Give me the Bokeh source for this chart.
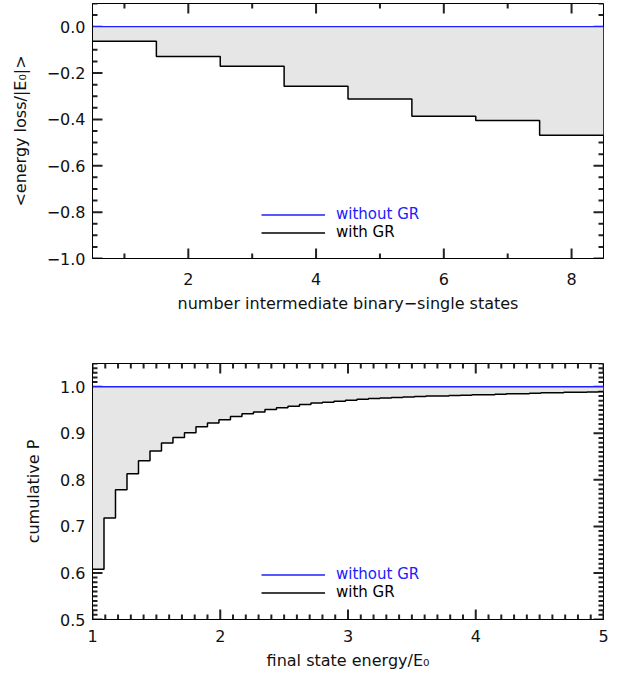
import numpy as np
from bokeh.plotting import figure
from bokeh.layouts import column
from bokeh.models import (Range1d, Legend, LegendItem, FixedTicker,
                          CustomJSTickFormatter, ColumnDataSource)
from bokeh.embed import file_html
from bokeh.resources import INLINE

# ---------------- data ----------------
# top panel: mean energy loss vs number of intermediate binary-single states
n_states = [1, 2, 3, 4, 5, 6, 7, 8]
eloss_with_gr = [-0.063, -0.129, -0.171, -0.257, -0.312, -0.386, -0.405, -0.468]
eloss_without_gr = [0.0, 0.0, 0.0, 0.0, 0.0, 0.0, 0.0, 0.0]

# bottom panel: cumulative P vs final state energy (bin left edges)
energy_edges = [1.00, 1.09, 1.18, 1.27, 1.36, 1.45, 1.54, 1.63, 1.72, 1.81,
                1.90, 1.99, 2.08, 2.17, 2.26, 2.35, 2.44, 2.53, 2.62, 2.71,
                2.80, 2.89, 2.98, 3.07, 3.16, 3.25, 3.34, 3.43, 3.52, 3.61,
                3.70, 3.79, 3.88, 3.97, 4.06, 4.15, 4.24, 4.33, 4.42, 4.51,
                4.60, 4.69, 4.78, 4.87, 4.96]
energy_max = 5.0
cumP_with_gr = [0.608, 0.718, 0.779, 0.813, 0.841, 0.862, 0.879, 0.891, 0.901, 0.914,
                0.922, 0.929, 0.936, 0.942, 0.946, 0.951, 0.955, 0.958, 0.962, 0.965,
                0.967, 0.969, 0.971, 0.973, 0.975, 0.976, 0.977, 0.978, 0.979, 0.980,
                0.980, 0.981, 0.982, 0.983, 0.983, 0.984, 0.985, 0.985, 0.986, 0.987,
                0.987, 0.988, 0.988, 0.989, 0.990]
cumP_without_gr = [1.0] * len(cumP_with_gr)

# tick labels
top_xticks = [2, 4, 6, 8]
top_yticks = [-1.0, -0.8, -0.6, -0.4, -0.2, 0.0]
bot_xticks = [1, 2, 3, 4, 5]
bot_yticks = [0.5, 0.6, 0.7, 0.8, 0.9, 1.0]

# ---------------- style ----------------
FONT = "DejaVu Sans"
FS = "16px"
LFS = "15px"
BLUE = "#2020ff"
FILL = "#e6e6e6"
TXT = "#111111"
TICK = "#222222"
MAJ_LEN = 10
MIN_LEN = 5

minus_fmt = CustomJSTickFormatter(code="""
    const d = Math.abs(tick) < 1e-9 ? 0 : tick;
    return d.toFixed(1).replace('-', '\\u2212');
""")
int_fmt = CustomJSTickFormatter(code="return Math.round(tick).toString();")


def style_axis(ax, ticks, fmt, standoff, label, label_standoff):
    ax.ticker = FixedTicker(ticks=ticks)
    ax.formatter = fmt
    ax.major_tick_in = 0
    ax.major_tick_out = 0
    ax.minor_tick_in = 0
    ax.minor_tick_out = 0
    ax.axis_line_color = "black"
    ax.major_label_text_font = FONT
    ax.major_label_text_color = TXT
    ax.major_label_text_font_size = FS
    ax.major_label_standoff = standoff
    ax.axis_label = label
    ax.axis_label_text_font = FONT
    ax.axis_label_text_font_style = "normal"
    ax.axis_label_text_color = TXT
    ax.axis_label_text_font_size = FS
    ax.axis_label_standoff = label_standoff


def tick_positions(lo, hi, step):
    n = int(round((hi - lo) / step))
    return [round(lo + i * step, 6) for i in range(n + 1)]


def draw_ticks(p, xr, yr, fw, fh, xmaj_step, xmin_step, ymaj_step, ymin_step,
               xorigin, yorigin):
    """Inward ticks on all four sides of the frame (IDL style)."""
    xa, xb = xr
    ya, yb = yr
    dx = (xb - xa) / fw
    dy = (yb - ya) / fh
    xall = [v for v in tick_positions(xorigin, xb, xmin_step) if xa <= v <= xb]
    yall = [v for v in tick_positions(yorigin, yb, ymin_step) if ya <= v <= yb]

    def is_major(v, origin, step):
        k = (v - origin) / step
        return abs(k - round(k)) < 1e-6

    xs0, ys0, xs1, ys1 = [], [], [], []
    for v in xall:
        L = MAJ_LEN if is_major(v, xorigin, xmaj_step) else MIN_LEN
        xs0 += [v, v]
        xs1 += [v, v]
        ys0 += [ya, yb]
        ys1 += [ya + L * dy, yb - L * dy]
    for v in yall:
        L = MAJ_LEN if is_major(v, yorigin, ymaj_step) else MIN_LEN
        ys0 += [v, v]
        ys1 += [v, v]
        xs0 += [xa, xb]
        xs1 += [xa + L * dx, xb - L * dx]
    src = ColumnDataSource(dict(x0=xs0, y0=ys0, x1=xs1, y1=ys1))
    p.segment(x0="x0", y0="y0", x1="x1", y1="y1", source=src,
              line_color=TICK, line_width=2)


def add_legend(p, r_without, r_with, y_without, y_with):
    for r, lab, col, yy in ((r_without, "without GR", BLUE, y_without),
                             (r_with, "with GR", "black", y_with)):
        lg = Legend(items=[LegendItem(label=lab, renderers=[r])],
                    location=(169, yy), padding=0, margin=0, spacing=0,
                    glyph_width=64, glyph_height=17, label_height=17,
                    label_standoff=11, label_text_font=FONT,
                    label_text_font_size=LFS, label_text_color=col,
                    border_line_color=None, background_fill_alpha=0)
        p.add_layout(lg)


def make_fig(xr, yr, fh, top, bottom):
    p = figure(frame_width=511, frame_height=fh, output_backend="svg",
               toolbar_location=None, x_range=Range1d(*xr), y_range=Range1d(*yr),
               min_border_left=92, min_border_right=18,
               min_border_top=top, min_border_bottom=bottom)
    p.grid.visible = False
    p.outline_line_color = "black"
    return p


# ---------------- top panel ----------------
XR1, YR1, FH1 = (0.5, 8.5), (-1.0, 0.1), 255
p1 = make_fig(XR1, YR1, FH1, 3, 72)

x_top = [s - 0.5 for s in n_states] + [n_states[-1] + 0.5]
y_gr_top = eloss_with_gr + [eloss_with_gr[-1]]
y_nogr_top = eloss_without_gr + [eloss_without_gr[-1]]

draw_ticks(p1, XR1, YR1, 511, FH1, 2, 1, 0.2, 0.05, 0.0, -1.0)
p1.varea_step(x=x_top, y1=y_gr_top, y2=y_nogr_top, step_mode="after",
              fill_color=FILL)
r1_nogr = p1.step(x=x_top, y=y_nogr_top, mode="after", line_color=BLUE,
                  line_width=1.3)
r1_gr = p1.step(x=x_top, y=y_gr_top, mode="after", line_color="black",
                line_width=1.5)

style_axis(p1.xaxis[0], top_xticks, int_fmt, 14,
           "number intermediate binary\u2212single states", 6)
style_axis(p1.yaxis[0], top_yticks, minus_fmt, 7,
           "<energy loss/|E\u2080|>", 14)
add_legend(p1, r1_nogr, r1_gr, 35, 17)

# ---------------- bottom panel ----------------
XR2, YR2, FH2 = (1.0, 5.0), (0.5, 1.05), 256
p2 = make_fig(XR2, YR2, FH2, 33, 57)

x_bot = energy_edges + [energy_max]
y_gr_bot = cumP_with_gr + [cumP_with_gr[-1]]
y_nogr_bot = cumP_without_gr + [cumP_without_gr[-1]]

draw_ticks(p2, XR2, YR2, 511, FH2, 1, 0.1, 0.1, 0.01, 1.0, 0.5)
p2.varea_step(x=x_bot, y1=y_gr_bot, y2=y_nogr_bot, step_mode="after",
              fill_color=FILL)
r2_nogr = p2.step(x=x_bot, y=y_nogr_bot, mode="after", line_color=BLUE,
                  line_width=1.3)
r2_gr = p2.step(x=x_bot, y=y_gr_bot, mode="after", line_color="black",
                line_width=1.5)

style_axis(p2.xaxis[0], bot_xticks, int_fmt, 10, "final state energy/E\u2080", 6)
style_axis(p2.yaxis[0], bot_yticks, minus_fmt, 7, "cumulative P", 14)
add_legend(p2, r2_nogr, r2_gr, 36, 18)

layout = column(p1, p2, spacing=0)
open("out.html", "w").write(file_html(layout, INLINE))
